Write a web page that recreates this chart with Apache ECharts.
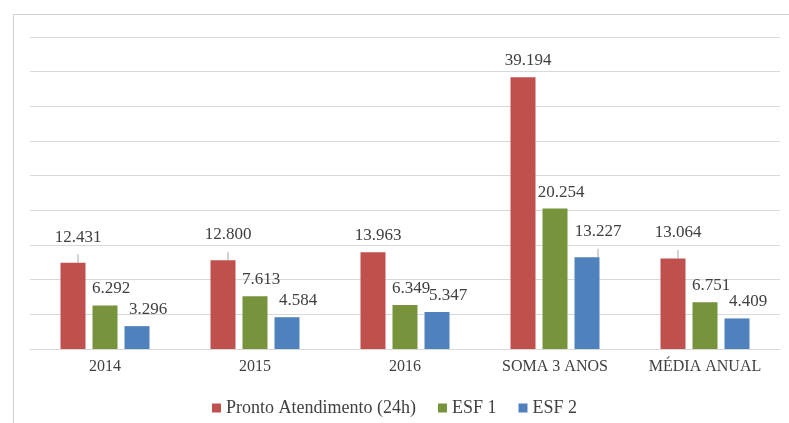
<!DOCTYPE html>
<html>
<head>
<meta charset="utf-8">
<script src="https://cdn.jsdelivr.net/npm/echarts@6/dist/echarts.min.js"></script>
<style>
  html, body { margin: 0; padding: 0; background: #fff; }
  #chart { width: 789px; height: 423px; }
</style>
</head>
<body>
<div id="chart"></div>
<script>
const categories = ["2014", "2015", "2016", "SOMA 3 ANOS", "MÉDIA ANUAL"];
const prontoAtendimento = [12431, 12800, 13963, 39194, 13064];
const esf1 = [6292, 7613, 6349, 20254, 6751];
const esf2 = [3296, 4584, 5347, 13227, 4409];
// rótulos com linha de chamada (como no original)
const leaderPronto = [true, true, false, false, true];
const leaderEsf2 = [false, false, false, true, false];

// separador de milhar com ponto
function fmt(v) {
    return String(v).replace(/\B(?=(\d{3})+(?!\d))/g, ".");
}

const font = "Liberation Serif";

const chart = echarts.init(document.getElementById("chart"), null, { renderer: "canvas" });

function barSeries(name, values, color, offset, leaders) {
    const data = values.map((v, i) => {
        const lead = leaders && leaders[i];
        return {
            value: v,
            label: { distance: lead ? 17 : 8 },
            labelLine: { show: !!lead },
        };
    });
    return {
        name: name,
        type: "bar",
        data: data,
        barWidth: 25,
        barGap: "28%",
        itemStyle: { color: color },
        label: {
            show: true,
            position: "top",
            offset: offset,
            color: "#404040",
            fontFamily: font,
            fontSize: 17,
            formatter: (p) => fmt(p.value),
        },
        labelLine: { lineStyle: { color: "#a6a6a6", width: 1 } },
        emphasis: { disabled: true },
    };
}

chart.setOption({
    animation: false,
    textStyle: { fontFamily: font },
    graphic: [{
        type: "rect",
        shape: { x: 13.5, y: 14.5, width: 790, height: 420 },
        style: { fill: "none", stroke: "#d0d0d0", lineWidth: 1 },
        silent: true,
    }],
    grid: { left: 30, right: 9, top: 37, bottom: 74 },
    legend: {
        bottom: 1,
        left: "center",
        itemWidth: 9,
        itemHeight: 9,
        itemGap: 22,
        icon: "rect",
        textStyle: { color: "#404040", fontFamily: font, fontSize: 18 },
        data: ["Pronto Atendimento (24h)", "ESF 1", "ESF 2"],
    },
    xAxis: {
        type: "category",
        data: categories,
        axisLine: { lineStyle: { color: "#d9d9d9", width: 1 } },
        axisTick: { show: false },
        axisLabel: { color: "#404040", fontFamily: font, fontSize: 16, margin: 10 },
    },
    yAxis: {
        type: "value",
        min: 0,
        max: 45000,
        interval: 5000,
        axisLabel: { show: false },
        axisLine: { show: false },
        axisTick: { show: false },
        splitLine: { lineStyle: { color: "#d9d9d9", width: 1 } },
    },
    series: [
        barSeries("Pronto Atendimento (24h)", prontoAtendimento, "#c0504d", [5, 0], leaderPronto),
        barSeries("ESF 1", esf1, "#77933c", [6, 0], null),
        barSeries("ESF 2", esf2, "#4f81bd", [11, 0], leaderEsf2),
    ],
});
</script>
</body>
</html>
